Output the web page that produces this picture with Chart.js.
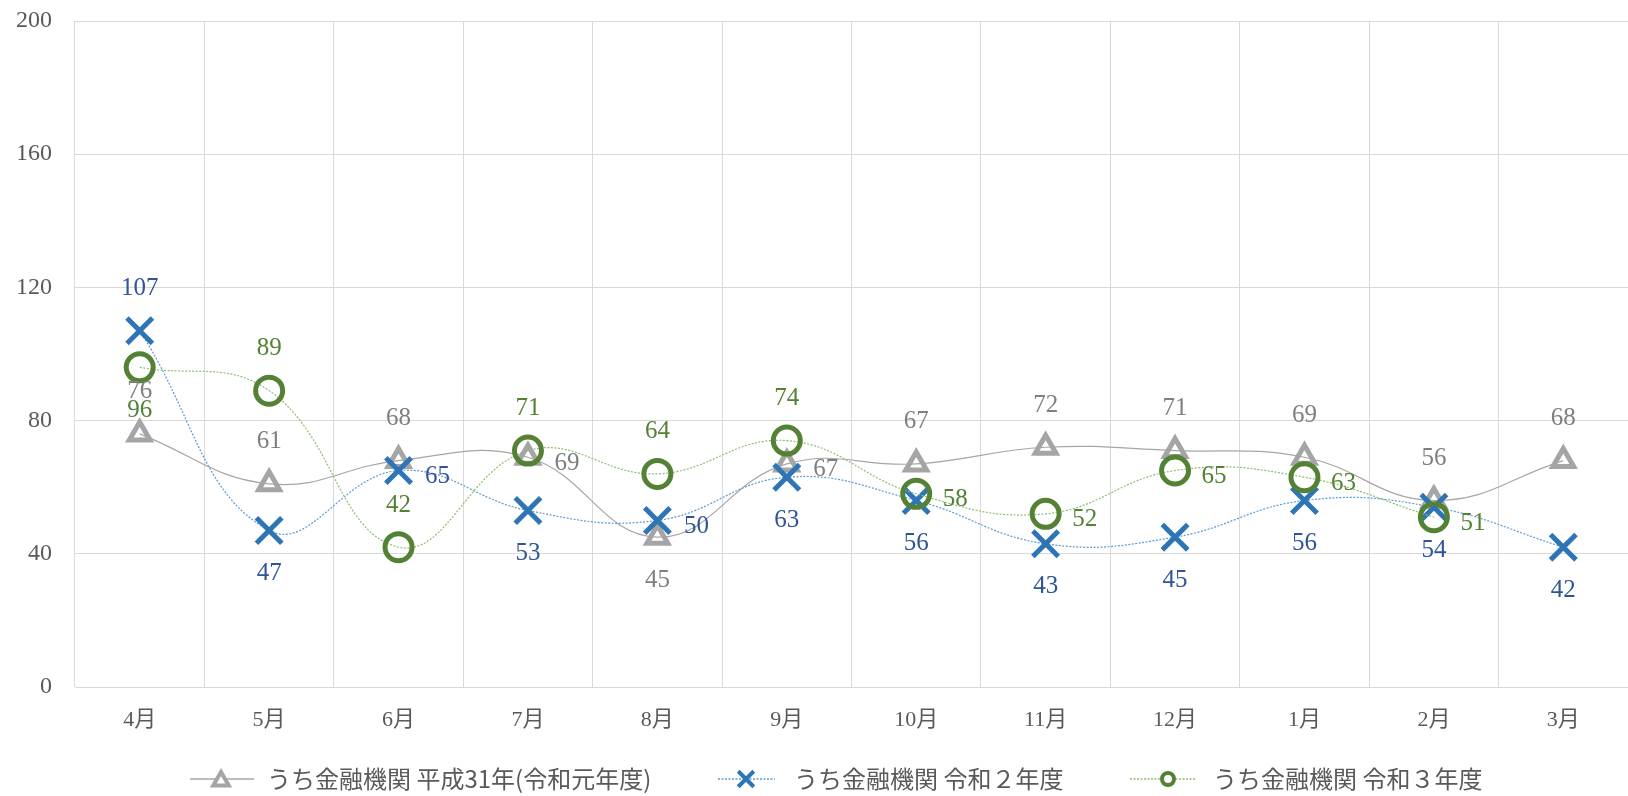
<!DOCTYPE html>
<html><head><meta charset="utf-8">
<script src="https://cdn.jsdelivr.net/npm/chart.js@4/dist/chart.umd.min.js"></script>
<style>html,body{margin:0;padding:0;background:#fff;}#wrap{width:1628px;height:796px;}</style>
</head><body><div id="wrap"><canvas id="c" width="1628" height="796"></canvas></div>
<script>
const categories = ['4月','5月','6月','7月','8月','9月','10月','11月','12月','1月','2月','3月'];
const seriesNames = ['うち金融機関 平成31年(令和元年度)','うち金融機関 令和２年度','うち金融機関 令和３年度'];
const valuesH31 = [76, 61, 68, 69, 45, 67, 67, 72, 71, 69, 56, 68];
const valuesR2  = [107, 47, 65, 53, 50, 63, 56, 43, 45, 56, 54, 42];
const valuesR3  = [96, 89, 42, 71, 64, 74, 58, 52, 65, 63, 51, null];
const yTicks = [0, 40, 80, 120, 160, 200];

// label placement (style): a = above, b = below, r = right
const placeH31 = ['a','a','a','r','b','r','a','a','a','a','a','a'];
const placeR2  = ['a','b','r','b','r','b','b','b','b','b','b','b'];
const placeR3  = ['b','a','a','a','a','a','r','r','r','r','r','r'];

const SERIF = '"Liberation Serif", "Noto Sans CJK JP", serif';
const LEG = '"Noto Sans CJK JP", "Liberation Serif", serif';

function drawMarker(ctx, style, r, x, y) {
  if (style === 'triangle') {
    ctx.moveTo(x, y - r);
    ctx.lineTo(x + r * 0.866, y + r * 0.5);
    ctx.lineTo(x - r * 0.866, y + r * 0.5);
    ctx.closePath();
  } else if (style === 'crossRot') {
    const o = r * 0.7071;
    ctx.moveTo(x - o, y - o); ctx.lineTo(x + o, y + o);
    ctx.moveTo(x + o, y - o); ctx.lineTo(x - o, y + o);
  } else {
    ctx.moveTo(x + r, y);
    ctx.arc(x, y, r, 0, Math.PI * 2);
  }
}

const labelPlugin = {
  id: 'lbls',
  afterDatasetsDraw(chart) {
    const ctx = chart.ctx;
    ctx.save();
    ctx.font = '25px ' + SERIF;
    ctx.textAlign = 'center';
    ctx.textBaseline = 'middle';
    chart.data.datasets.forEach((ds, di) => {
      const meta = chart.getDatasetMeta(di);
      meta.data.forEach((pt, i) => {
        const v = ds.data[i];
        if (v === null || v === undefined) return;
        const p = ds.place[i];
        let x = pt.x, y = pt.y;
        if (p === 'a') y -= 42;
        else if (p === 'b') y += 43;
        else if (p === 'r') { x += 39; y += 6; }
        ctx.fillStyle = ds.labelColor;
        ctx.fillText(String(v), x, y);
      });
    });
    ctx.restore();
  }
};

const legendPlugin = {
  id: 'customLegend',
  afterDraw(chart) {
    const ctx = chart.ctx;
    ctx.save();
    const y = 779;
    const items = [
      {x0: 190, x1: 254, mx: 221, tx: 267},
      {x0: 718, x1: 775, mx: 746, tx: 794},
      {x0: 1130, x1: 1196, mx: 1168, tx: 1213}
    ];
    chart.data.datasets.forEach((ds, di) => {
      const it = items[di];
      ctx.beginPath();
      ctx.strokeStyle = ds.borderColor;
      ctx.lineWidth = 1.5;
      ctx.setLineDash(ds.borderDash || []);
      ctx.moveTo(it.x0, y); ctx.lineTo(it.x1, y); ctx.stroke();
      ctx.setLineDash([]);
      ctx.fillStyle = '#ffffff';
      ctx.strokeStyle = ds.pointBorderColor;
      ctx.lineWidth = 4;
      ctx.beginPath();
      drawMarker(ctx, ds.pointStyle, ds.legendRadius, it.mx, y + (ds.pointStyle === 'triangle' ? 2 : 0));
      if (ds.pointStyle !== 'crossRot') ctx.fill();
      ctx.stroke();
      ctx.fillStyle = '#595959';
      ctx.font = '24px ' + LEG;
      ctx.textAlign = 'left';
      ctx.textBaseline = 'middle';
      ctx.fillText(ds.label, it.tx, y);
    });
    ctx.restore();
  }
};

new Chart(document.getElementById('c'), {
  type: 'line',
  data: {
    labels: categories,
    datasets: [
      {
        label: seriesNames[0], data: valuesH31, place: placeH31, labelColor: '#7f7f7f',
        borderColor: '#a6a6a6', borderWidth: 1.2, tension: 0.42,
        pointStyle: 'triangle', pointRadius: 12, pointBorderWidth: 5,
        pointBorderColor: '#a5a5a5', pointBackgroundColor: 'rgba(0,0,0,0)',
        legendRadius: 9, order: 2
      },
      {
        label: seriesNames[1], data: valuesR2, place: placeR2, labelColor: '#2f5597',
        borderColor: '#5b9bd5', borderWidth: 1.2, borderDash: [2, 1.5], tension: 0.42,
        pointStyle: 'crossRot', pointRadius: 18, pointBorderWidth: 5,
        pointBorderColor: '#2e75b6', pointBackgroundColor: 'rgba(0,0,0,0)',
        legendRadius: 11, order: 1
      },
      {
        label: seriesNames[2], data: valuesR3, place: placeR3, labelColor: '#548235',
        borderColor: '#8fbc6e', borderWidth: 1.2, borderDash: [2, 1.5], tension: 0.42,
        pointStyle: 'circle', pointRadius: 13.5, pointBorderWidth: 5,
        pointBorderColor: '#548235', pointBackgroundColor: 'rgba(0,0,0,0)',
        legendRadius: 6, order: 0
      }
    ]
  },
  options: {
    responsive: false,
    animation: false,
    events: [],
    layout: { autoPadding: false, padding: { top: 21, right: 0, left: 0, bottom: 49 } },
    plugins: { legend: { display: false }, tooltip: { enabled: false } },
    scales: {
      x: {
        offset: true,
        grid: { offset: true, color: '#d9d9d9', lineWidth: 1, drawTicks: false },
        border: { display: true, color: '#d9d9d9' },
        ticks: { color: '#595959', font: { family: SERIF, size: 22 }, padding: 20, maxRotation: 0 },
        afterFit(s) { s.height = 60; s.paddingLeft = 0; s.paddingRight = 0; }
      },
      y: {
        min: 0, max: 200,
        afterBuildTicks(s) { s.ticks = yTicks.map(v => ({ value: v })); },
        grid: { color: '#d9d9d9', lineWidth: 1, drawTicks: false },
        border: { display: false },
        ticks: { color: '#595959', font: { family: SERIF, size: 24 }, padding: 23 },
        afterFit(s) { s.width = 75; s.paddingTop = 0; s.paddingBottom = 0; }
      }
    }
  },
  plugins: [labelPlugin, legendPlugin]
});
</script>
</body></html>
